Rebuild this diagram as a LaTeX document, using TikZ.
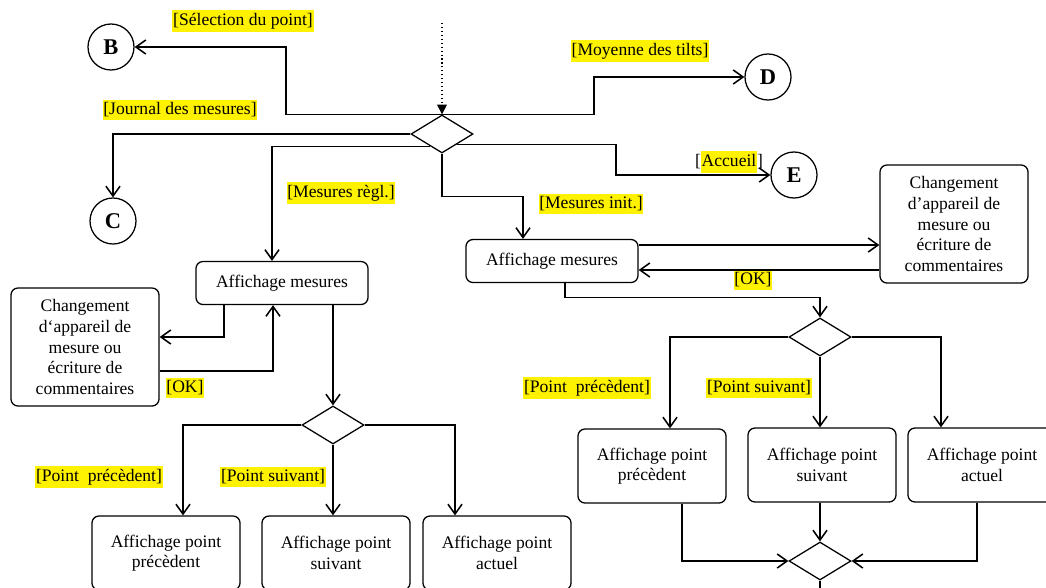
\documentclass[tikz,border=0pt]{standalone}
\usepackage{fontspec}
\setmainfont{Liberation Serif}
\usetikzlibrary{shapes.geometric,arrows.meta,calc}
\setlength{\fboxsep}{0.5pt}

\begin{document}
\begin{tikzpicture}[x=0.025cm,y=-0.025cm,
    every node/.style={font=\fontsize{12.5}{14.6}\selectfont},
    arr/.style={line width=1.1pt,-{Straight Barb[length=7pt,width=10pt]}},
    plain/.style={line width=1.1pt},
    lbl/.style={fill=yellow,inner xsep=0.5pt,inner ysep=2pt},
    circ/.style={draw,circle,line width=0.9pt,minimum size=1.15cm,inner sep=0pt,font=\fontsize{16}{18}\selectfont\bfseries},
    dec/.style={draw,diamond,line width=0.9pt,minimum width=1.55cm,minimum height=0.95cm,inner sep=0pt},
    box/.style={draw,rounded corners=5pt,line width=0.9pt,align=center,inner sep=0pt},
    mbox/.style={box,minimum width=4.3cm,minimum height=1.075cm},
    cbox/.style={box,minimum width=3.7cm,minimum height=2.95cm},
    pbox/.style={box,minimum width=3.7cm,minimum height=1.85cm}]
    \useasboundingbox (0,0) rectangle (1046,587);
    \clip (0,0) rectangle (1046,587);

    \coordinate (start) at (442,23);
    \node[circ] (B) at (111,47) {B};
    \node[circ] (C) at (113,221) {C};
    \node[circ] (D) at (768,77) {D};
    \node[circ] (E) at (794,175) {E};
    \node[dec] (d1) at (442,134) {};

    \node[mbox] (am1) at (282,283) {Affichage mesures};
    \node[mbox] (am2) at (552,261) {Affichage mesures};
    \node[cbox] (ch1) at (85,347) {Changement\\d`appareil de\\mesure ou\\écriture de\\commentaires};
    \node[cbox] (ch2) at (954,224) {Changement\\d’appareil de\\mesure ou\\écriture de\\commentaires};

    \node[dec] (d2) at (333,425) {};
    \node[pbox] (p1) at (166,553) {Affichage point\\précèdent};
    \node[pbox] (p2) at (336,553) {Affichage point\\suivant};
    \node[pbox] (p3) at (497,553) {Affichage point\\actuel};

    \node[dec] (d3) at (820,337) {};
    \node[pbox] (q1) at (652,466) {Affichage point\\précèdent};
    \node[pbox] (q2) at (822,465) {Affichage point\\suivant};
    \node[pbox] (q3) at (982,465) {Affichage point\\actuel};
    \node[dec] (d4) at (820,561) {};

    \node[lbl] (lsel) at (243,21) {[Sélection du point]};
    \node[lbl] (ljou) at (180,110) {[Journal des mesures]};
    \node[lbl] (lmoy) at (640,51) {[Moyenne des tilts]};
    \node (lacc) at (729,162) {[\colorbox{yellow}{\strut Accueil}]};
    \node[lbl] (lregl) at (341,193) {[Mesures règl.]};
    \node[lbl] (linit) at (591,204) {[Mesures init.]};
    \node[lbl] (lok1) at (185,388) {[OK]};
    \node[lbl] (lok2) at (753,280) {[OK]};
    \node[lbl] (lprec1) at (99,477) {[Point~\ précèdent]};
    \node[lbl] (lsuiv1) at (273,477) {[Point suivant]};
    \node[lbl] (lprec2) at (587,388) {[Point~\ précèdent]};
    \node[lbl] (lsuiv2) at (759,388) {[Point suivant]};

    \draw[dotted,line width=0.8pt,-{Triangle[length=7pt,width=7pt]}] (start) -- (d1.north);
    \draw[arr] (d1.north) -- ++(-156,0) |- (B.east);
    \draw[arr] (d1.north) -- ++(152,0) |- (D.west);
    \draw[arr] (d1.west) -| (C.north);
    \draw[arr] ($(d1.west)!0.63!(d1.south)$) -| ($(am1.north)+(-10,0)$);
    \draw[arr] (d1.south) -- ++(0,43) -| ($(am2.north)+(-29,0)$);
    \draw[arr] ($(d1.east)!0.53!(d1.south)$) -- ++(159,0) |- (E.west);

    \draw[arr] ($(am1.south)+(-58,0)$) |- ($(ch1.east)+(0,-10)$);
    \draw[arr] ($(ch1.east)+(0,24)$) -| ($(am1.south)+(-9,0)$);
    \draw[arr] (am1.south -| d2.north) -- (d2.north);
    \draw[arr] (d2.west) -| ($(p1.north)+(17,0)$);
    \draw[arr] (d2.south) -- (d2.south |- p2.north);
    \draw[arr] (d2.east) -| ($(p3.north)+(-42,0)$);

    \draw[arr] ($(am2.east)+(0,-16)$) -- ($(ch2.west)+(0,21)$);
    \draw[arr] ($(ch2.west)+(0,46)$) -- ($(am2.east)+(0,9)$);
    \draw[arr] ($(am2.south)+(13,0)$) |- ($(d3.north)+(0,-20)$) -- (d3.north);
    \draw[arr] (d3.west) -| ($(q1.north)+(18,0)$);
    \draw[arr] (d3.south) -- (d3.south |- q2.north);
    \draw[arr] (d3.east) -| ($(q3.north)+(-41,0)$);
    \draw[arr] ($(q1.south)+(30,0)$) |- (d4.west);
    \draw[arr] (q2.south -| d4.north) -- (d4.north);
    \draw[arr] ($(q3.south)+(-5,0)$) |- (d4.east);
    \draw[plain] (d4.south) -- ++(0,20);
\end{tikzpicture}
\end{document}
